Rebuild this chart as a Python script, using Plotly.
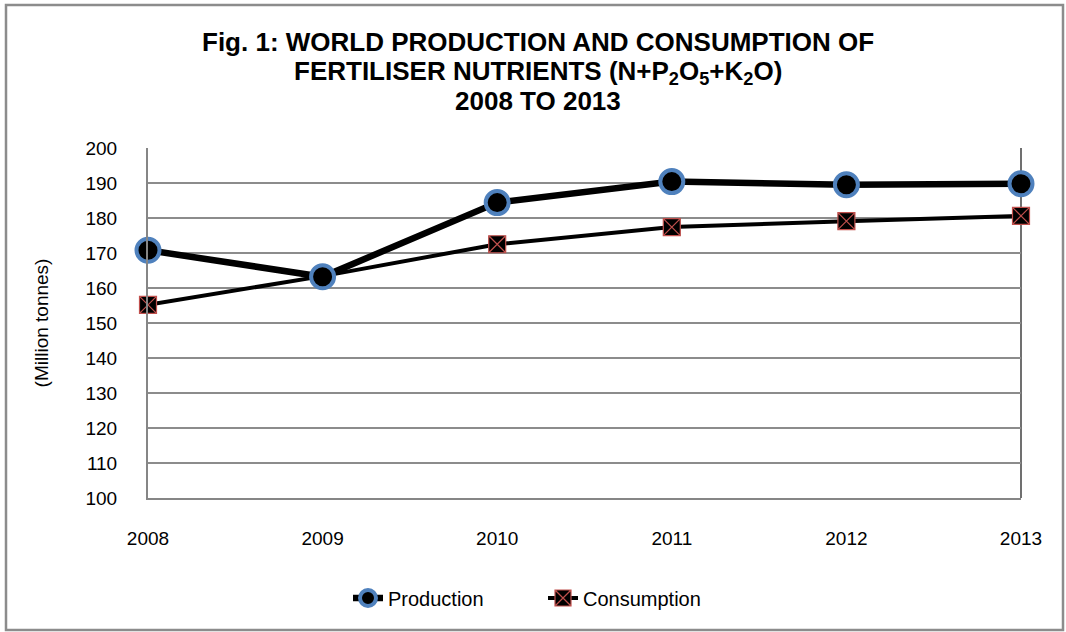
import plotly.graph_objects as go

years = [2008, 2009, 2010, 2011, 2012, 2013]
production = [170.8, 163.2, 184.4, 190.4, 189.5, 189.8]
consumption = [155.2, 163.4, 172.5, 177.4, 179.1, 180.6]
y_ticks = list(range(100, 201, 10))
title_lines = [
    "<b>Fig. 1: WORLD PRODUCTION AND CONSUMPTION OF</b>",
    "<b>FERTILISER NUTRIENTS (N+P<sub>2</sub>O<sub>5</sub>+K<sub>2</sub>O)</b>",
    "<b>2008 TO 2013</b>",
]
title_y_px = [42, 72, 101]

W, H = 1066, 632
L, R, T, B = 148, 45, 148, 134
pw, ph = W - L - R, H - T - B

def px(x):
    return (x - L) / pw

def py(y):
    return (H - B - y) / ph

FONT = "Liberation Sans, Arial, sans-serif"

fig = go.Figure()
fig.add_trace(go.Scatter(
    x=years, y=consumption, name="Consumption", mode="lines+markers",
    line=dict(color="black", width=4), cliponaxis=False,
    marker=dict(symbol="square-x", size=17, color="black",
                line=dict(color="#C0504D", width=1.2)),
))
fig.add_trace(go.Scatter(
    x=years, y=production, name="Production", mode="lines+markers",
    line=dict(color="black", width=6.5), cliponaxis=False,
    marker=dict(symbol="circle", size=23, color="black",
                line=dict(color="#4F81BD", width=4)),
))

annotations = [
    dict(text=t, xref="paper", yref="paper", x=px(538), y=py(yy),
         xanchor="center", yanchor="middle", showarrow=False,
         font=dict(size=26, family=FONT, color="black"))
    for t, yy in zip(title_lines, title_y_px)
]

fig.update_layout(
    width=W, height=H,
    margin=dict(l=L, r=R, t=T, b=B),
    paper_bgcolor="white", plot_bgcolor="white",
    font=dict(family=FONT, size=20, color="black"),
    annotations=annotations,
    showlegend=True,
    legend=dict(orientation="h", x=px(543), xanchor="center", y=py(598), yanchor="middle",
                traceorder="reversed", font=dict(size=20), entrywidth=150),
    xaxis=dict(range=[2008, 2013], tickvals=years, ticktext=[str(y) for y in years],
               showgrid=False, zeroline=False, showline=True, linecolor="#868686",
               linewidth=2, ticks="", ticklabelstandoff=22, tickfont=dict(size=19)),
    yaxis=dict(range=[100, 200], tickvals=y_ticks, showgrid=True, gridcolor="#8C8C8C",
               gridwidth=1.5, zeroline=False, showline=True, linecolor="#868686",
               linewidth=2, ticks="", ticklabelstandoff=25, tickfont=dict(size=19),
               title=dict(text="(Million tonnes)", standoff=32, font=dict(size=19))),
    shapes=[
        dict(type="line", xref="paper", yref="paper", x0=1, x1=1, y0=0, y1=1,
             line=dict(color="#404040", width=1.5), layer="below"),
        dict(type="rect", xref="paper", yref="paper",
             x0=px(6), x1=px(1063), y0=py(630), y1=py(5),
             line=dict(color="#8C8C8C", width=2.5)),
    ],
)

fig.write_html("out.html", config={"displayModeBar": False},
               post_script="document.body.style.margin='0';document.body.style.overflow='hidden';")
